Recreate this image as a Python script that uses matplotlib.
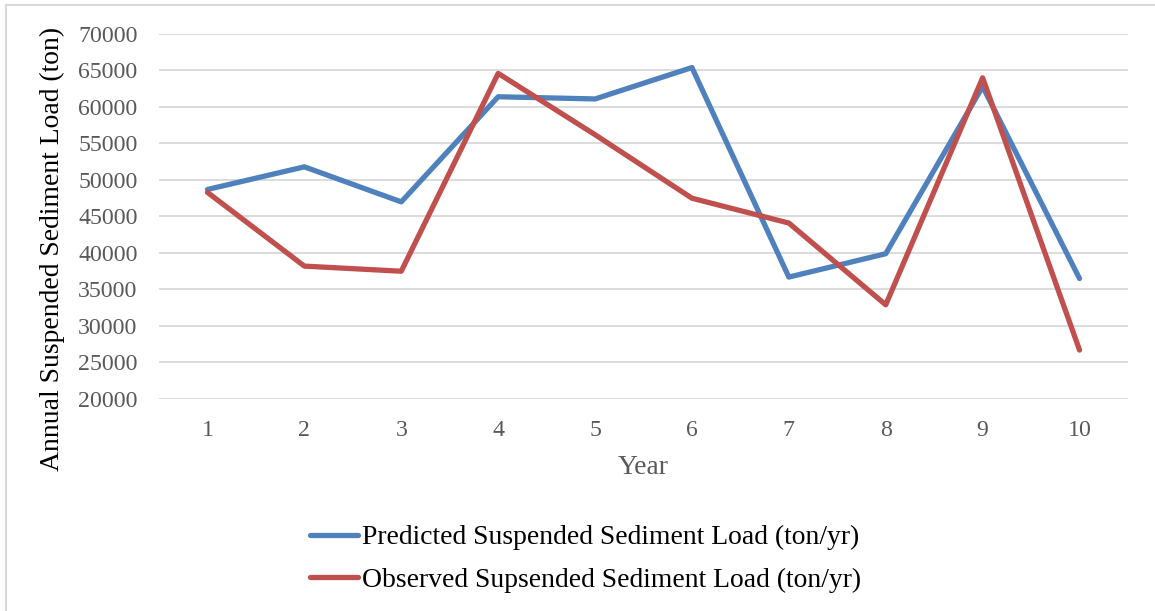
import matplotlib.pyplot as plt
from matplotlib.lines import Line2D

plt.rcParams['font.family'] = ['Liberation Serif', 'DejaVu Serif']

# Annual suspended sediment load per year (ton/yr)
years = [1, 2, 3, 4, 5, 6, 7, 8, 9, 10]
predicted = [48700, 51800, 47000, 61400, 61100, 65400, 36700, 39900, 62800, 36500]
observed = [48300, 38200, 37500, 64600, 56200, 47500, 44100, 32900, 64000, 26700]
yticks = [20000, 25000, 30000, 35000, 40000, 45000, 50000, 55000, 60000, 65000, 70000]

blue = '#4f81bd'
red = '#c0504d'
grey = '#595959'

fig = plt.figure(figsize=(11.55, 6.11), dpi=100)
ax = fig.add_axes([0.1377, 0.347, 0.8389, 0.5974])

ax.plot(years, predicted, color=blue, lw=3.8, solid_joinstyle='round',
        solid_capstyle='round', label='Predicted Suspended Sediment Load (ton/yr)')
ax.plot(years, observed, color=red, lw=3.8, solid_joinstyle='round',
        solid_capstyle='round', label='Observed Supsended Sediment Load (ton/yr)')

ax.set_xlim(0.5, 10.5)
ax.set_ylim(20000, 70000)
ax.set_xticks(years)
ax.set_yticks(yticks)
ax.tick_params(length=0, labelsize=17.2, labelcolor=grey)
ax.tick_params(axis='y', pad=15.5)
ax.tick_params(axis='x', pad=15)
ax.grid(axis='y', color='#d9d9d9', lw=1.3)
ax.set_axisbelow(True)
for s in ax.spines.values():
    s.set_visible(False)

ax.set_ylabel('Annual Suspended Sediment Load (ton)', fontsize=19.9, color='black')
ax.yaxis.set_label_coords(-0.097, 0.412)
ax.set_xlabel('Year', fontsize=19.8, color=grey)
ax.xaxis.set_label_coords(0.5, -0.153)

fig.legend(loc='center left', bbox_to_anchor=(310 / 1155, 0.085), frameon=False,
           fontsize=19.9, handlelength=1.74, handletextpad=0.15, labelspacing=0.62,
           borderpad=0, borderaxespad=0)

# thin chart-area frame
fig.add_artist(Line2D([6 / 1155, 6 / 1155], [0, 1 - 5 / 611], transform=fig.transFigure,
                      color='#d9d9d9', lw=1.5))
fig.add_artist(Line2D([6 / 1155, 1], [1 - 5 / 611, 1 - 5 / 611], transform=fig.transFigure,
                      color='#d9d9d9', lw=1.5))

fig.savefig('out.png', dpi=100)
